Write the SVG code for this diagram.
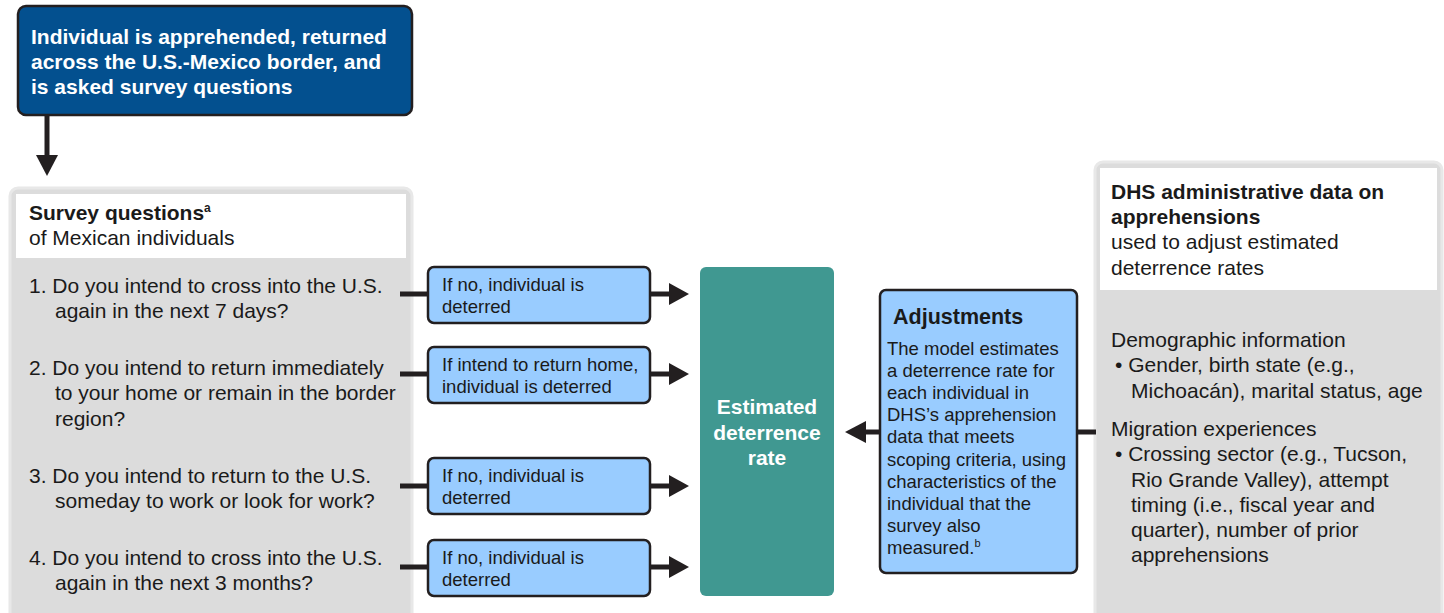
<svg xmlns="http://www.w3.org/2000/svg" width="1444" height="613" viewBox="0 0 1444 613">
<style>
text{font-family:"Liberation Sans",Arial,sans-serif;fill:#1a1a1a}
.w{fill:#fff}
.b{font-weight:bold}
.q{font-size:21px}
.s{font-size:18.5px}
.lb{fill:#99ccff;stroke:#231f20;stroke-width:2.5}
.panel{fill:#dcdcdc;stroke:#e8e8e8;stroke-width:3}
.con{stroke:#231f20;stroke-width:5;fill:none}
.ah{fill:#231f20}
</style>
<g id="top">
<rect x="18" y="6" width="394" height="109" rx="8" fill="#03508f" stroke="#231f20" stroke-width="2.5"/>
<text class="w b" font-size="21" x="31" y="44">Individual is apprehended, returned</text>
<text class="w b" font-size="21" x="31" y="69">across the U.S.-Mexico border, and</text>
<text class="w b" font-size="21" x="31" y="94">is asked survey questions</text>
</g>
<g id="survey">
<path class="panel" d="M10 613 V196 a8 8 0 0 1 8 -8 H404 a8 8 0 0 1 8 8 V613"/>
<rect x="16" y="194" width="390" height="64" fill="#fff"/>
<text class="q b" x="29" y="220">Survey questions<tspan font-size="12" dy="-8">a</tspan></text>
<text class="q" x="29" y="245">of Mexican individuals</text>
<text class="q" x="29" y="293">1. Do you intend to cross into the U.S.</text>
<text class="q" x="55" y="318">again in the next 7 days?</text>
<text class="q" x="29" y="375">2. Do you intend to return immediately</text>
<text class="q" x="55" y="400">to your home or remain in the border</text>
<text class="q" x="55" y="426">region?</text>
<text class="q" x="29" y="483">3. Do you intend to return to the U.S.</text>
<text class="q" x="55" y="508">someday to work or look for work?</text>
<text class="q" x="29" y="565">4. Do you intend to cross into the U.S.</text>
<text class="q" x="55" y="590">again in the next 3 months?</text>
</g>
<g id="d1">
<rect class="lb" x="428" y="267" width="222" height="56" rx="6"/>
<text class="s" x="442" y="291">If no, individual is</text>
<text class="s" x="442" y="313">deterred</text>
</g>
<g id="d2">
<rect class="lb" x="428" y="347" width="222" height="56" rx="6"/>
<text class="s" x="442" y="371">If intend to return home,</text>
<text class="s" x="442" y="393">individual is deterred</text>
</g>
<g id="d3">
<rect class="lb" x="428" y="458" width="222" height="56" rx="6"/>
<text class="s" x="442" y="482">If no, individual is</text>
<text class="s" x="442" y="504">deterred</text>
</g>
<g id="d4">
<rect class="lb" x="428" y="540" width="222" height="56" rx="6"/>
<text class="s" x="442" y="564">If no, individual is</text>
<text class="s" x="442" y="586">deterred</text>
</g>
<g id="rate">
<rect x="700" y="267" width="134" height="329" rx="6" fill="#409891"/>
<text class="w b" font-size="21" x="767" y="414" text-anchor="middle">Estimated</text>
<text class="w b" font-size="21" x="767" y="440" text-anchor="middle">deterrence</text>
<text class="w b" font-size="21" x="767" y="465" text-anchor="middle">rate</text>
</g>
<g id="adj">
<rect class="lb" x="880" y="290" width="197" height="283" rx="6"/>
<text class="b" font-size="21.5" x="893" y="324">Adjustments</text>
<text class="s" x="887" y="355">The model estimates</text>
<text class="s" x="887" y="377">a deterrence rate for</text>
<text class="s" x="887" y="399">each individual in</text>
<text class="s" x="887" y="421">DHS’s apprehension</text>
<text class="s" x="887" y="443">data that meets</text>
<text class="s" x="887" y="466">scoping criteria, using</text>
<text class="s" x="887" y="488">characteristics of the</text>
<text class="s" x="887" y="510">individual that the</text>
<text class="s" x="887" y="532">survey also</text>
<text class="s" x="887" y="554">measured.<tspan font-size="11" dy="-7">b</tspan></text>
</g>
<g id="dhs">
<path class="panel" d="M1095 613 V170 a8 8 0 0 1 8 -8 H1434 a8 8 0 0 1 8 8 V613"/>
<rect x="1100" y="168" width="337" height="122" fill="#fff"/>
<text class="q b" x="1111" y="199">DHS administrative data on</text>
<text class="q b" x="1111" y="224">apprehensions</text>
<text class="q" x="1111" y="249">used to adjust estimated</text>
<text class="q" x="1111" y="275">deterrence rates</text>
<text class="q" x="1111" y="347">Demographic information</text>
<text class="q" x="1115" y="372">• Gender, birth state (e.g.,</text>
<text class="q" x="1131" y="398">Michoacán), marital status, age</text>
<text class="q" x="1111" y="436">Migration experiences</text>
<text class="q" x="1115" y="461">• Crossing sector (e.g., Tucson,</text>
<text class="q" x="1131" y="487">Rio Grande Valley), attempt</text>
<text class="q" x="1131" y="512">timing (i.e., fiscal year and</text>
<text class="q" x="1131" y="537">quarter), number of prior</text>
<text class="q" x="1131" y="562">apprehensions</text>
</g>
<g id="connectors">
<line class="con" x1="47" y1="115" x2="47" y2="157"/>
<polygon class="ah" points="36,155 58,155 47,176"/>
<line class="con" x1="400" y1="294" x2="428" y2="294"/>
<line class="con" x1="400" y1="374" x2="428" y2="374"/>
<line class="con" x1="400" y1="486" x2="428" y2="486"/>
<line class="con" x1="400" y1="567" x2="428" y2="567"/>
<line class="con" x1="650" y1="294" x2="671" y2="294"/>
<polygon class="ah" points="669,283 669,305 689,294"/>
<line class="con" x1="650" y1="374" x2="671" y2="374"/>
<polygon class="ah" points="669,363 669,385 689,374"/>
<line class="con" x1="650" y1="486" x2="671" y2="486"/>
<polygon class="ah" points="669,475 669,497 689,486"/>
<line class="con" x1="650" y1="567" x2="671" y2="567"/>
<polygon class="ah" points="669,556 669,578 689,567"/>
<line class="con" x1="864" y1="432" x2="880" y2="432"/>
<polygon class="ah" points="866,421 866,443 845,432"/>
<line class="con" x1="1077" y1="432" x2="1096" y2="432"/>
</g>
</svg>
